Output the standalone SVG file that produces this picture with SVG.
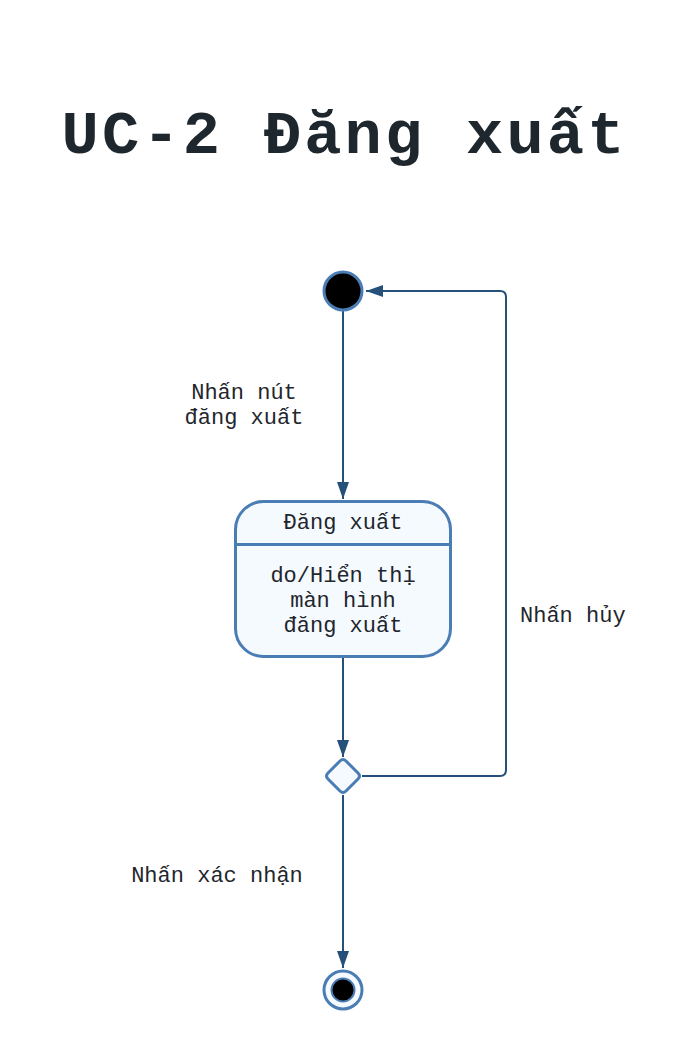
<svg xmlns="http://www.w3.org/2000/svg" width="687" height="1049" viewBox="0 0 687 1049">
<style>
  .t { font-family: "Liberation Mono", "DejaVu Sans Mono", monospace; font-size: 22px; fill: #1f262d; }
  .title { font-family: "Liberation Mono", "DejaVu Sans Mono", monospace; font-size: 62px; font-weight: bold; fill: #1e272e; }
  .node { fill: #f5faff; stroke: #4a7db4; stroke-width: 3; }
  .edge { fill: none; stroke: #24507a; stroke-width: 2; }
</style>
<defs>
  <marker id="arr" markerUnits="userSpaceOnUse" markerWidth="17" markerHeight="12" refX="17" refY="6" orient="auto">
    <path d="M0,0 L17,6 L0,12 z" fill="#24507a"/>
  </marker>
</defs>
<rect width="687" height="1049" fill="#ffffff"/>
<text class="title" x="343" y="153" text-anchor="middle" textLength="563" lengthAdjust="spacing">UC-2 Đăng xuất</text>

<g id="connectors">
  <path class="edge" d="M343,311 V499" marker-end="url(#arr)"/>
  <path class="edge" d="M343,657 V757" marker-end="url(#arr)"/>
  <path class="edge" d="M343,795 V968" marker-end="url(#arr)"/>
  <path class="edge" d="M362,776 H500 Q506,776 506,770 V297 Q506,291 500,291 H366" marker-end="url(#arr)"/>
  <text class="t" x="244" y="399" text-anchor="middle">Nhấn nút</text>
  <text class="t" x="244" y="424" text-anchor="middle">đăng xuất</text>
  <text class="t" x="520" y="622">Nhấn hủy</text>
  <text class="t" x="217" y="882" text-anchor="middle">Nhấn xác nhận</text>
</g>

<g id="start">
  <circle cx="343" cy="291" r="19" fill="#000000" stroke="#4a7db4" stroke-width="3"/>
</g>

<g id="state-dang-xuat">
  <rect class="node" x="235.5" y="501.5" width="215" height="155" rx="28" ry="28"/>
  <line x1="235.5" y1="544.5" x2="450.5" y2="544.5" stroke="#4a7db4" stroke-width="3"/>
  <text class="t" x="343" y="529" text-anchor="middle">Đăng xuất</text>
  <text class="t" x="343" y="582" text-anchor="middle">do/Hiển thị</text>
  <text class="t" x="343" y="607" text-anchor="middle">màn hình</text>
  <text class="t" x="343" y="632" text-anchor="middle">đăng xuất</text>
</g>

<g id="decision">
  <path class="node" d="M340,761 Q343,758 346,761 L358,773 Q361,776 358,779 L346,791 Q343,794 340,791 L328,779 Q325,776 328,773 Z"/>
</g>

<g id="end">
  <circle class="node" cx="343" cy="990" r="19"/>
  <circle cx="343" cy="990" r="11.5" fill="#000000" stroke="#4a7db4" stroke-width="2"/>
</g>
</svg>
